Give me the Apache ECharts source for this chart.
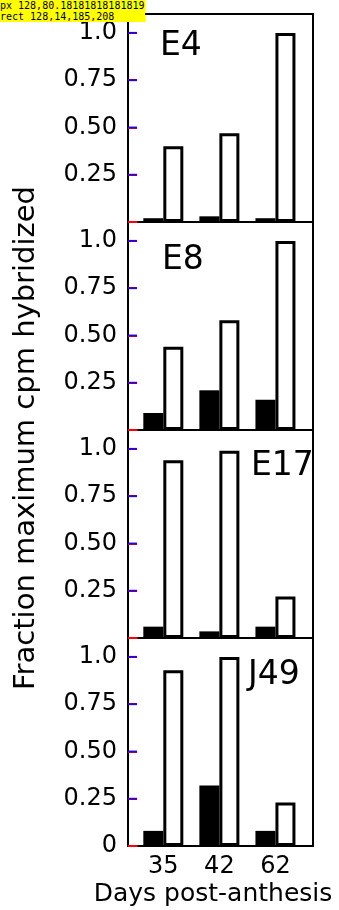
<!DOCTYPE html>
<html>
<head>
<meta charset="utf-8">
<script src="https://cdn.jsdelivr.net/npm/echarts@6/dist/echarts.min.js"></script>
<style>
html, body { margin: 0; padding: 0; background: #fff; }
#chart { width: 339px; height: 910px; }
</style>
</head>
<body>
<div id="chart"></div>
<div id="dbg" style="position:absolute;left:0;top:0;font:10px monospace;white-space:pre;background:#ff0"></div>
<script>
// data
var days = ['35', '42', '62'];
var panelNames = ['E4', 'E8', 'E17', 'J49'];
var filledE4 = [0.02, 0.03, 0.02];
var openE4 = [0.40, 0.47, 1.00];
var filledE8 = [0.09, 0.21, 0.16];
var openE8 = [0.44, 0.58, 1.00];
var filledE17 = [0.06, 0.035, 0.06];
var openE17 = [0.94, 0.99, 0.22];
var filledJ49 = [0.08, 0.32, 0.08];
var openJ49 = [0.93, 1.00, 0.23];
var yTickLabels = ['0', '0.25', '0.50', '0.75', '1.0'];
var yTitle = 'Fraction maximum cpm hybridized';
var xTitle = 'Days post-anthesis';

var filled = [filledE4, filledE8, filledE17, filledJ49];
var open = [openE4, openE8, openE17, openJ49];

var font = 'DejaVu Sans';
var gridTop = 14, gridH = 208;
var xMin = -0.63, xMax = 2.67;
var labelPos = [[160, 46], [162, 260], [251, 466], [248, 675]];

function toPoints(arr) {
    return arr.map(function (v, i) { return [i, v]; });
}

function dayLabel(v) {
    var k = Math.round(v);
    if (Math.abs(v - k) > 1e-6 || k < 0 || k > 2) return '';
    return days[k];
}

var tickPoints = yTickLabels.slice(1).map(function (s) { return [xMin, parseFloat(s)]; });

var myChart = echarts.init(document.getElementById('chart'));
var grids = [], xAxes = [], yAxes = [], series = [], graphics = [];

panelNames.forEach(function (name, i) {
    var last = i === panelNames.length - 1;
    grids.push({
        left: 128, right: 26,
        top: gridTop + i * gridH, height: gridH,
        show: true, borderColor: '#000', borderWidth: 2
    });
    xAxes.push({
        type: 'value', gridIndex: i,
        min: xMin, max: xMax, splitNumber: 3,
        axisLine: { show: false, onZero: false },
        axisTick: { show: false },
        splitLine: { show: false },
        axisLabel: {
            show: last,
            color: '#000', fontSize: 24, fontFamily: font, margin: 9,
            formatter: dayLabel
        }
    });
    yAxes.push({
        type: 'value', gridIndex: i,
        min: 0, max: 1.1, interval: 0.25,
        axisLine: { show: false, onZero: false },
        axisTick: { show: true, inside: true, length: 9, lineStyle: { color: 'red', width: 2 } },
        splitLine: { show: false },
        axisLabel: {
            color: '#000', fontSize: 24, fontFamily: font, margin: 11,
            formatter: function (v) {
                var k = Math.round(v / 0.25);
                if (Math.abs(v - k * 0.25) > 1e-6 || k > 4) return '';
                if (k === 0 && !last) return '';
                return yTickLabels[k];
            }
        }
    });
    series.push({
        type: 'bar', xAxisIndex: i, yAxisIndex: i,
        data: toPoints(filled[i]),
        barWidth: 20, barGap: '0%',
        itemStyle: { color: '#000' }
    });
    series.push({
        type: 'bar', xAxisIndex: i, yAxisIndex: i,
        data: toPoints(open[i]),
        barWidth: 20, barGap: '0%',
        itemStyle: { color: '#fff', borderColor: '#000', borderWidth: 3 }
    });
    series.push({
        type: 'scatter', xAxisIndex: i, yAxisIndex: i,
        data: tickPoints,
        symbol: 'rect', symbolSize: [9, 2], symbolOffset: [4.5, 0],
        clip: false, silent: true, z: 5,
        itemStyle: { color: 'blue' }
    });
    graphics.push({
        type: 'text', x: labelPos[i][0], y: labelPos[i][1],
        style: { text: name, fill: '#000', font: '33px "' + font + '"', textAlign: 'left', textVerticalAlign: 'middle' }
    });
});

graphics.push({
    type: 'text', x: 26, y: 438, rotation: Math.PI / 2,
    style: { text: yTitle, fill: '#000', font: '29px "' + font + '"', textAlign: 'center', textVerticalAlign: 'middle' }
});
graphics.push({
    type: 'text', x: 213, y: 894,
    style: { text: xTitle, fill: '#000', font: '25px "' + font + '"', textAlign: 'center', textVerticalAlign: 'middle' }
});

var option = {
    animation: false,
    backgroundColor: '#fff',
    grid: grids,
    xAxis: xAxes,
    yAxis: yAxes,
    series: series,
    graphic: graphics
};
myChart.setOption(option);
var p = myChart.convertToPixel({ gridIndex: 0 }, [xMin, 0.75]);
var r = myChart.getModel().getComponent('grid', 0).coordinateSystem.getRect();
document.getElementById('dbg').textContent = 'px ' + p.join(',') + '\nrect ' + [r.x, r.y, r.width, r.height].join(',');
window.addEventListener('resize', function () {
    myChart.resize();
});
</script>
</body>
</html>
